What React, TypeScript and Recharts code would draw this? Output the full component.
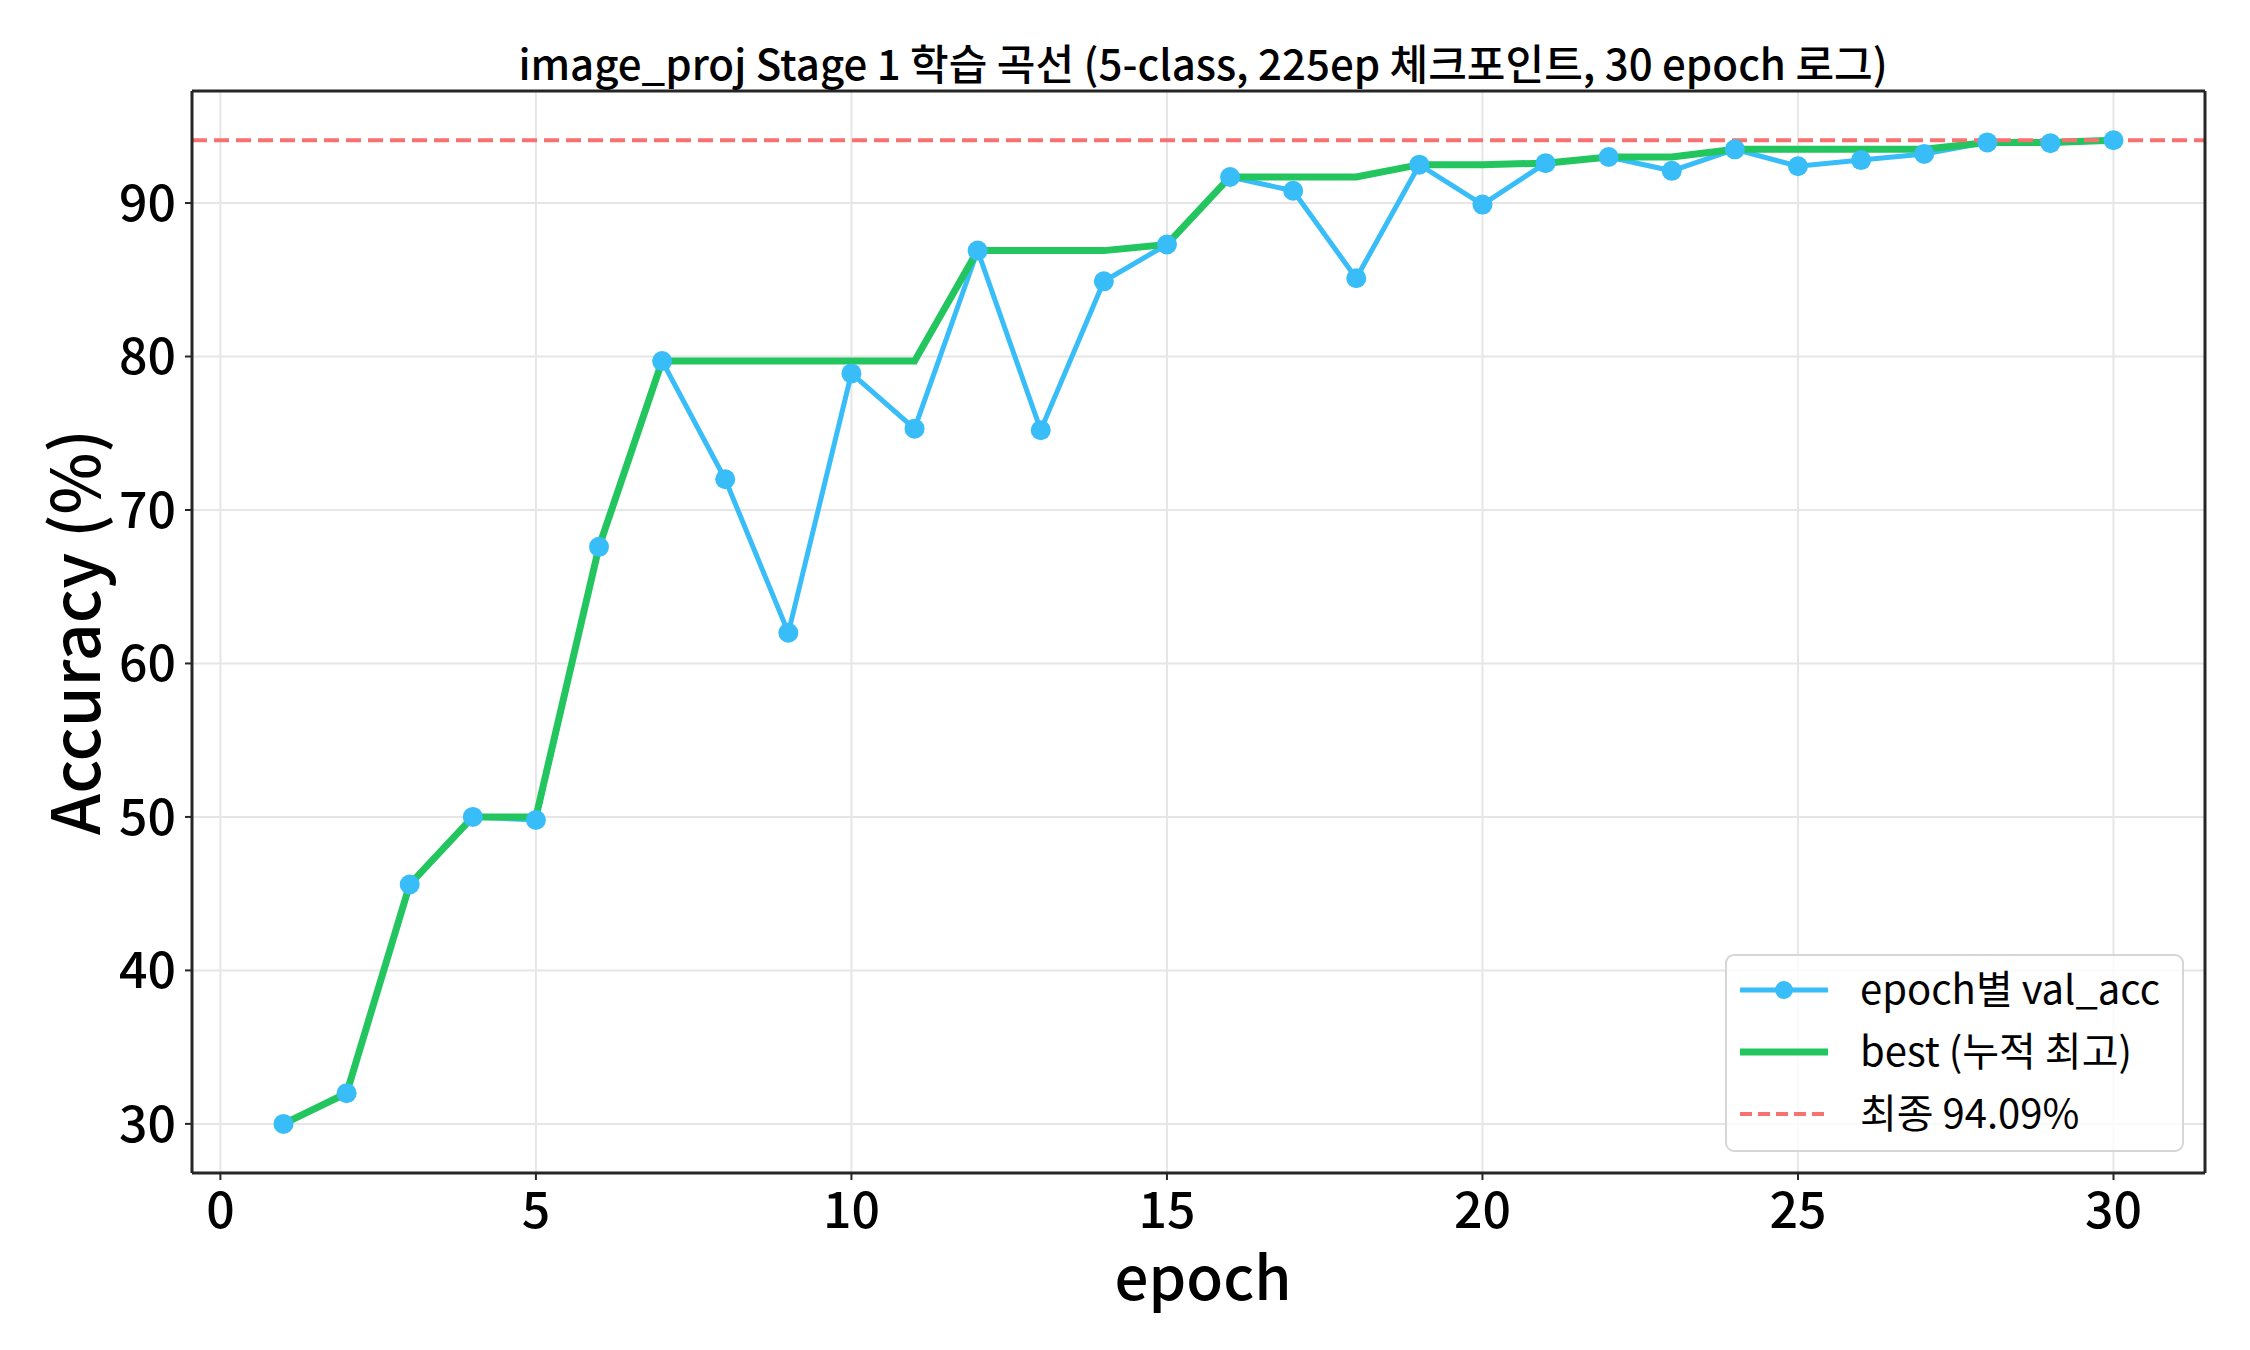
import React from 'react';
import {
  LineChart, Line, XAxis, YAxis, CartesianGrid, ReferenceLine
} from 'recharts';

const FONT = '"Noto Sans CJK KR", "Noto Sans", sans-serif';

const epochs = [1, 2, 3, 4, 5, 6, 7, 8, 9, 10, 11, 12, 13, 14, 15, 16, 17, 18, 19, 20, 21, 22, 23, 24, 25, 26, 27, 28, 29, 30];
const valAcc = [30.0, 32.0, 45.6, 50.0, 49.8, 67.6, 79.7, 72.0, 62.0, 78.9, 75.3, 86.9, 75.2, 84.9, 87.3, 91.7, 90.8, 85.1, 92.5, 89.9, 92.6, 93.0, 92.1, 93.5, 92.4, 92.8, 93.2, 93.95, 93.9, 94.09];
const bestAcc = [30.0, 32.0, 45.6, 50.0, 50.0, 67.6, 79.7, 79.7, 79.7, 79.7, 79.7, 86.9, 86.9, 86.9, 87.3, 91.7, 91.7, 91.7, 92.5, 92.5, 92.6, 93.0, 93.0, 93.5, 93.5, 93.5, 93.5, 93.95, 93.95, 94.09];
const finalAcc = 94.09;
const xTicks = [0, 5, 10, 15, 20, 25, 30];
const yTicks = [30, 40, 50, 60, 70, 80, 90];
const xDomain = [-0.45, 31.45];
const yDomain = [26.8, 97.3];

const BLUE = '#38bdf8';
const GREEN = '#22c55e';
const RED = '#f87171';
const FRAME = '#262626';

const rows = epochs.map((e, i) => ({ epoch: e, val: valAcc[i], best: bestAcc[i] }));

const legendItems = [
  { label: 'epoch별 val_acc', color: BLUE, width: 5, dash: undefined, dot: true },
  { label: 'best (누적 최고)', color: GREEN, width: 7, dash: undefined, dot: false },
  { label: `최종 ${finalAcc.toFixed(2)}%`, color: RED, width: 4, dash: '12 6', dot: false },
];

const tickStyle = { fontSize: 50, fill: '#000', fontFamily: FONT, fontWeight: 500 };

export default function App() {
  return (
    <div style={{ position: 'absolute', left: 0, top: 0, width: 2250, height: 1350, background: '#fff', fontFamily: FONT }}>
      <LineChart width={2250} height={1350} data={rows} margin={{ top: 91, right: 45, bottom: 0, left: 0 }}>
        <CartesianGrid stroke="#e6e6e6" strokeWidth={2} />
        <XAxis
          dataKey="epoch"
          type="number"
          domain={xDomain}
          ticks={xTicks}
          allowDataOverflow
          height={177}
          tick={tickStyle}
          tickSize={7}
          tickMargin={12}
          tickLine={{ stroke: FRAME, strokeWidth: 2 }}
          axisLine={{ stroke: FRAME, strokeWidth: 3 }}
        />
        <YAxis
          type="number"
          domain={yDomain}
          ticks={yTicks}
          allowDataOverflow
          width={192}
          tick={tickStyle}
          tickSize={7}
          tickMargin={9}
          tickLine={{ stroke: FRAME, strokeWidth: 2 }}
          axisLine={{ stroke: FRAME, strokeWidth: 3 }}
        />
        <Line
          dataKey="val"
          stroke={BLUE}
          strokeWidth={5}
          dot={{ r: 10, fill: BLUE, stroke: 'none' }}
          isAnimationActive={false}
        />
        <Line
          dataKey="best"
          stroke={GREEN}
          strokeWidth={7}
          dot={false}
          isAnimationActive={false}
        />
        <ReferenceLine y={finalAcc} stroke={RED} strokeWidth={4} strokeDasharray="15 7" />
        {/* top and right spines */}
        <ReferenceLine y={yDomain[1]} stroke={FRAME} strokeWidth={3} />
        <ReferenceLine x={xDomain[1]} stroke={FRAME} strokeWidth={3} />
      </LineChart>

      <svg width={2250} height={1350} style={{ position: 'absolute', left: 0, top: 0, pointerEvents: 'none' }}>
        <text x={1203} y={80} textAnchor="middle" fontSize={42} fontWeight={500} fill="#000">
          image_proj Stage 1 학습 곡선 (5-class, 225ep 체크포인트, 30 epoch 로그)
        </text>
        <text transform="translate(100, 632) rotate(-90)" textAnchor="middle" fontSize={66} fontWeight={500} fill="#000">
          Accuracy (%)
        </text>
        <text x={1203} y={1300} textAnchor="middle" fontSize={60} fontWeight={500} fill="#000">epoch</text>

        <rect x={1726} y={955} width={457} height={196} rx={8} fill="#fff" fillOpacity={0.8} stroke="#d6d6d6" strokeWidth={2} />
        {legendItems.map((it, i) => {
          const cy = 990 + i * 62;
          return (
            <g key={it.label}>
              <line x1={1740} x2={1828} y1={cy} y2={cy} stroke={it.color} strokeWidth={it.width} strokeDasharray={it.dash} />
              {it.dot && <circle cx={1784} cy={cy} r={9} fill={it.color} />}
              <text x={1860} y={cy + 14} fontSize={40} fill="#000">{it.label}</text>
            </g>
          );
        })}
      </svg>
    </div>
  );
}
